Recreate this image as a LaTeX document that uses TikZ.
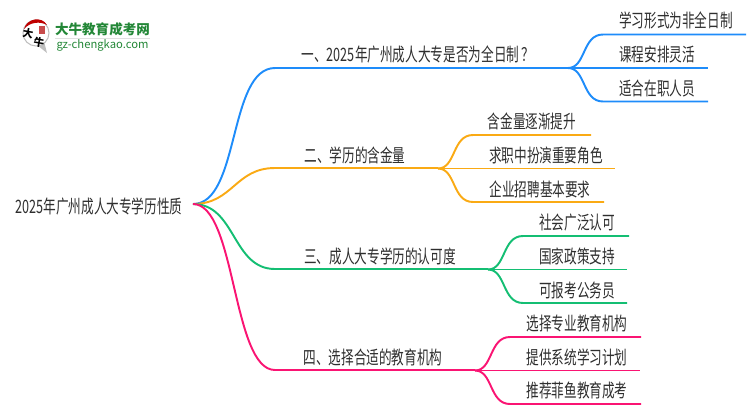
\documentclass[tikz,border=0pt]{standalone}
\usepackage{fontspec}
\setmainfont{Noto Sans CJK SC}
\usepackage{tikz}
\tikzset{
    lbl/.style={inner sep=0pt, anchor=base, text=black!82, font=\fontsize{10.5pt}{10.5pt}\selectfont, xscale=0.685},
    blueline/.style={draw={rgb,255:red,30;green,140;blue,250}, line width=1.1pt},
    orangeline/.style={draw={rgb,255:red,250;green,170;blue,20}, line width=1.1pt},
    greenline/.style={draw={rgb,255:red,20;green,190;blue,115}, line width=1.1pt},
    pinkline/.style={draw={rgb,255:red,250;green,20;blue,115}, line width=1.1pt},
}
% one fork: line style, fork x, y, end x of the three children
\newcommand{\forkthree}[5]{
    \draw[#1] (#2,#3) .. controls (#2+18,#3) and (#2+14,#3-33.5) .. (#2+35,#3-33.5) -- (#4,#3-33.5);
    \draw[#1] (#2,#3) -- (#5,#3);
}
\newcommand{\forklow}[4]{
    \draw[#1] (#2,#3) .. controls (#2+18,#3) and (#2+14,#3+33.5) .. (#2+35,#3+33.5) -- (#4,#3+33.5);
}
\begin{document}
\begin{tikzpicture}[x=0.02cm,y=-0.02cm]
    \useasboundingbox (0,0) rectangle (750,410);

    % logo
    \fill[black!25] (37,45) -- (47,53) -- (44,41) -- cycle;
    \draw[black!25, fill=white, line width=0.6pt] (36,33) circle (13);
    \fill[red!75!black] (24,29) .. controls (27,18) and (42,16) .. (47,25) .. controls (40,21) and (30,22) .. (24,29) -- cycle;
    \fill[red!70!black, opacity=0.7] (39,26) rectangle (45,34);
    \node[inner sep=0pt, font=\fontsize{6pt}{6pt}\selectfont\bfseries, rotate=-10] (logoa) at (28,33) {大};
    \node[inner sep=0pt, font=\fontsize{6pt}{6pt}\selectfont\bfseries, rotate=-10] (logob) at (39,42) {牛};
    \node[inner sep=0pt, font=\fontsize{7.7pt}{7.7pt}\selectfont\bfseries, text={rgb,255:red,35;green,135;blue,55}] (logoname) at (102.5,29) {大牛教育成考网};
    \fill[black!12] (55,38) rectangle (150,39);
    \node[inner sep=0pt, font=\fontsize{6.4pt}{6.4pt}\selectfont, text={rgb,255:red,35;green,135;blue,55}] (logourl) at (102.5,45) {gz-chengkao.com};

    % main branches
    \draw[blueline] (193,204) .. controls (240,204) and (228,68) .. (275,68) -- (570,68);
    \draw[orangeline] (193,204) .. controls (233,204) and (235,168) .. (275,168) -- (438,168);
    \draw[greenline] (193,204) .. controls (236,204) and (232,269) .. (275,269) -- (488,269);
    \draw[pinkline] (193,204) .. controls (236,204) and (232,370) .. (275,370) -- (475,370);

    % children
    \forkthree{blueline}{568}{68}{746}{708}
    \forklow{blueline}{568}{68}{708}
    \forkthree{orangeline}{438}{168.5}{591}{615}
    \forklow{orangeline}{438}{168.5}{604}
    \forkthree{greenline}{488}{269.5}{629}{627}
    \forklow{greenline}{488}{269.5}{627}
    \forkthree{pinkline}{475}{370.5}{641}{640}
    \forklow{pinkline}{475}{370.5}{641}

    % texts
    \node[lbl] (root) at (99,213) {2025年广州成人大专学历性质};
    \node[lbl] (q1) at (418,61) {一、2025年广州成人大专是否为全日制\kern2pt？};
    \node[lbl] (q2) at (355,162) {二、学历的含金量};
    \node[lbl] (q3) at (380,263) {三、成人大专学历的认可度};
    \node[lbl] (q4) at (373,364) {四、选择合适的教育机构};

    \node[lbl] (a1) at (676,27.5) {学习形式为非全日制};
    \node[lbl] (a2) at (657,61) {课程安排灵活};
    \node[lbl] (a3) at (657,95) {适合在职人员};
    \node[lbl] (b1) at (532,128) {含金量逐渐提升};
    \node[lbl] (b2) at (546,162) {求职中扮演重要角色};
    \node[lbl] (b3) at (540,196) {企业招聘基本要求};
    \node[lbl] (c1) at (577,229) {社会广泛认可};
    \node[lbl] (c2) at (577,263) {国家政策支持};
    \node[lbl] (c3) at (577,297) {可报考公务员};
    \node[lbl] (d1) at (577,330) {选择专业教育机构};
    \node[lbl] (d2) at (577,364) {提供系统学习计划};
    \node[lbl] (d3) at (577,397) {推荐菲鱼教育成考};
\end{tikzpicture}
\end{document}
